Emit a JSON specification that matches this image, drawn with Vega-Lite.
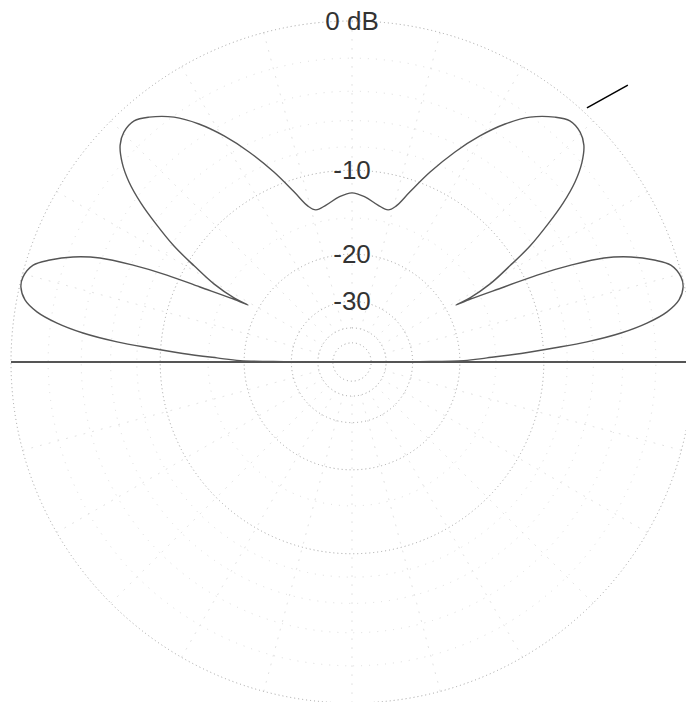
{
  "$schema": "https://vega.github.io/schema/vega-lite/v6.json",
  "width": 686,
  "height": 702,
  "autosize": "none",
  "padding": 0,
  "background": "white",
  "config": {"view": {"stroke": null}},
  "datasets": {
    "pattern": [
      {"i":1,"x":0,"y":0},{"i":2,"x":0.082,"y":0},{"i":3,"x":0.199,"y":0.001},{"i":4,"x":0.328,"y":0.004},
      {"i":5,"x":0.396,"y":0.012},{"i":6,"x":0.496,"y":0.025},{"i":7,"x":0.592,"y":0.041},{"i":8,"x":0.689,"y":0.059},
      {"i":9,"x":0.789,"y":0.085},{"i":10,"x":0.865,"y":0.114},{"i":11,"x":0.924,"y":0.147},{"i":12,"x":0.959,"y":0.182},
      {"i":13,"x":0.971,"y":0.220},{"i":14,"x":0.965,"y":0.249},{"i":15,"x":0.935,"y":0.284},{"i":16,"x":0.886,"y":0.299},
      {"i":17,"x":0.818,"y":0.308},{"i":18,"x":0.739,"y":0.305},{"i":19,"x":0.642,"y":0.284},{"i":20,"x":0.543,"y":0.255},
      {"i":21,"x":0.446,"y":0.220},{"i":22,"x":0.349,"y":0.185},{"i":23,"x":0.305,"y":0.167},{"i":24,"x":0.346,"y":0.188},
      {"i":25,"x":0.405,"y":0.229},{"i":26,"x":0.463,"y":0.282},{"i":27,"x":0.522,"y":0.340},{"i":28,"x":0.575,"y":0.405},
      {"i":29,"x":0.619,"y":0.466},{"i":30,"x":0.654,"y":0.528},{"i":31,"x":0.674,"y":0.584},{"i":32,"x":0.680,"y":0.636},
      {"i":33,"x":0.669,"y":0.674},{"i":34,"x":0.639,"y":0.707},{"i":35,"x":0.595,"y":0.718},{"i":36,"x":0.522,"y":0.718},
      {"i":37,"x":0.449,"y":0.698},{"i":38,"x":0.375,"y":0.663},{"i":39,"x":0.302,"y":0.616},{"i":40,"x":0.229,"y":0.557},
      {"i":41,"x":0.170,"y":0.499},{"i":42,"x":0.129,"y":0.457},{"i":43,"x":0.106,"y":0.446},{"i":44,"x":0.076,"y":0.460},
      {"i":45,"x":0.038,"y":0.484},{"i":46,"x":0,"y":0.496},
      {"i":47,"x":-0.038,"y":0.484},{"i":48,"x":-0.076,"y":0.460},{"i":49,"x":-0.106,"y":0.446},{"i":50,"x":-0.129,"y":0.457},
      {"i":51,"x":-0.170,"y":0.499},{"i":52,"x":-0.229,"y":0.557},{"i":53,"x":-0.302,"y":0.616},{"i":54,"x":-0.375,"y":0.663},
      {"i":55,"x":-0.449,"y":0.698},{"i":56,"x":-0.522,"y":0.718},{"i":57,"x":-0.595,"y":0.718},{"i":58,"x":-0.639,"y":0.707},
      {"i":59,"x":-0.669,"y":0.674},{"i":60,"x":-0.680,"y":0.636},{"i":61,"x":-0.674,"y":0.584},{"i":62,"x":-0.654,"y":0.528},
      {"i":63,"x":-0.619,"y":0.466},{"i":64,"x":-0.575,"y":0.405},{"i":65,"x":-0.522,"y":0.340},{"i":66,"x":-0.463,"y":0.282},
      {"i":67,"x":-0.405,"y":0.229},{"i":68,"x":-0.346,"y":0.188},{"i":69,"x":-0.305,"y":0.167},{"i":70,"x":-0.349,"y":0.185},
      {"i":71,"x":-0.446,"y":0.220},{"i":72,"x":-0.543,"y":0.255},{"i":73,"x":-0.642,"y":0.284},{"i":74,"x":-0.739,"y":0.305},
      {"i":75,"x":-0.818,"y":0.308},{"i":76,"x":-0.886,"y":0.299},{"i":77,"x":-0.935,"y":0.284},{"i":78,"x":-0.965,"y":0.249},
      {"i":79,"x":-0.971,"y":0.220},{"i":80,"x":-0.959,"y":0.182},{"i":81,"x":-0.924,"y":0.147},{"i":82,"x":-0.865,"y":0.114},
      {"i":83,"x":-0.789,"y":0.085},{"i":84,"x":-0.689,"y":0.059},{"i":85,"x":-0.592,"y":0.041},{"i":86,"x":-0.496,"y":0.025},
      {"i":87,"x":-0.396,"y":0.012},{"i":88,"x":-0.328,"y":0.004},{"i":89,"x":-0.199,"y":0.001},{"i":90,"x":-0.082,"y":0},
      {"i":91,"x":0,"y":0}
    ],
    "rings": [
      {"db":0,"r":1,"label":"0 dB"},
      {"db":-10,"r":0.5623,"label":"-10"},
      {"db":-20,"r":0.3162,"label":"-20"},
      {"db":-30,"r":0.1778,"label":"-30"},
      {"db":-40,"r":0.1,"label":""},
      {"db":-50,"r":0.0562,"label":""}
    ],
    "minor": [
      {"r":0.891},{"r":0.794},{"r":0.708},{"r":0.631},{"r":0.422}
    ],
    "spokes": [
      {"a":0},{"a":15},{"a":30},{"a":45},{"a":60},{"a":75},{"a":90},{"a":105},{"a":120},{"a":135},{"a":150},{"a":165},
      {"a":180},{"a":195},{"a":210},{"a":225},{"a":240},{"a":255},{"a":270},{"a":285},{"a":300},{"a":315},{"a":330},{"a":345}
    ],
    "ground": [{"x":-1.0,"y":0,"k":1},{"x":1.0,"y":0,"k":2}],
    "marker": [{"x":0.689,"y":0.745,"k":1},{"x":0.809,"y":0.812,"k":2}]
  },
  "layer": [
    {
      "data": {"name": "spokes"},
      "mark": {"type": "arc", "filled": false, "color": "#e2e2e2", "strokeWidth": 1, "strokeDash": [1, 8]},
      "encoding": {
        "x": {"datum": 0, "type": "quantitative", "scale": {"domain": [-1.0323, 0.9795], "nice": false, "zero": false}, "axis": null},
        "y": {"datum": 0, "type": "quantitative", "scale": {"domain": [-0.9971, 1.0616], "nice": false, "zero": false}, "axis": null},
        "theta": {"field": "a", "type": "quantitative", "stack": null, "scale": {"domain": [0, 360], "range": [0, 6.2832]}},
        "theta2": {"field": "a"},
        "radius": {"datum": 1, "type": "quantitative", "stack": null, "scale": {"type": "linear", "domain": [0, 1], "range": [0, 341], "zero": true}},
        "radius2": {"datum": 0.1}
      }
    },
    {
      "data": {"name": "minor"},
      "mark": {"type": "arc", "filled": false, "color": "#dcdcdc", "strokeWidth": 1, "strokeDash": [1, 7], "theta": 0, "theta2": 6.2832},
      "encoding": {
        "x": {"datum": 0, "type": "quantitative", "scale": {"domain": [-1.0323, 0.9795], "nice": false, "zero": false}, "axis": null},
        "y": {"datum": 0, "type": "quantitative", "scale": {"domain": [-0.9971, 1.0616], "nice": false, "zero": false}, "axis": null},
        "radius": {"field": "r", "type": "quantitative", "stack": null, "scale": {"type": "linear", "domain": [0, 1], "range": [0, 341], "zero": true}}
      }
    },
    {
      "data": {"name": "rings"},
      "mark": {"type": "arc", "filled": false, "color": "#a0a0a0", "strokeWidth": 1, "strokeDash": [1, 3], "theta": 0, "theta2": 6.2832},
      "encoding": {
        "x": {"datum": 0, "type": "quantitative", "scale": {"domain": [-1.0323, 0.9795], "nice": false, "zero": false}, "axis": null},
        "y": {"datum": 0, "type": "quantitative", "scale": {"domain": [-0.9971, 1.0616], "nice": false, "zero": false}, "axis": null},
        "radius": {"field": "r", "type": "quantitative", "stack": null, "scale": {"type": "linear", "domain": [0, 1], "range": [0, 341], "zero": true}}
      }
    },
    {
      "data": {"name": "ground"},
      "mark": {"type": "line", "color": "#555555", "strokeWidth": 2},
      "encoding": {
        "x": {"field": "x", "type": "quantitative", "scale": {"domain": [-1.0323, 0.9795], "nice": false, "zero": false}, "axis": null},
        "y": {"field": "y", "type": "quantitative", "scale": {"domain": [-0.9971, 1.0616], "nice": false, "zero": false}, "axis": null},
        "order": {"field": "k"}
      }
    },
    {
      "data": {"name": "pattern"},
      "mark": {"type": "line", "color": "#555555", "strokeWidth": 1.4, "strokeJoin": "round", "interpolate": "catmull-rom"},
      "encoding": {
        "x": {"field": "x", "type": "quantitative", "scale": {"domain": [-1.0323, 0.9795], "nice": false, "zero": false}, "axis": null},
        "y": {"field": "y", "type": "quantitative", "scale": {"domain": [-0.9971, 1.0616], "nice": false, "zero": false}, "axis": null},
        "order": {"field": "i"}
      }
    },
    {
      "data": {"name": "marker"},
      "mark": {"type": "line", "color": "#000000", "strokeWidth": 1.5},
      "encoding": {
        "x": {"field": "x", "type": "quantitative", "scale": {"domain": [-1.0323, 0.9795], "nice": false, "zero": false}, "axis": null},
        "y": {"field": "y", "type": "quantitative", "scale": {"domain": [-0.9971, 1.0616], "nice": false, "zero": false}, "axis": null},
        "order": {"field": "k"}
      }
    },
    {
      "data": {"name": "rings"},
      "mark": {"type": "text", "font": "Liberation Sans", "fontSize": 26, "color": "#333333", "align": "center", "baseline": "middle", "dy": 1},
      "encoding": {
        "x": {"datum": 0, "type": "quantitative", "scale": {"domain": [-1.0323, 0.9795], "nice": false, "zero": false}, "axis": null},
        "y": {"field": "r", "type": "quantitative", "scale": {"domain": [-0.9971, 1.0616], "nice": false, "zero": false}, "axis": null},
        "text": {"field": "label"}
      }
    }
  ]
}
